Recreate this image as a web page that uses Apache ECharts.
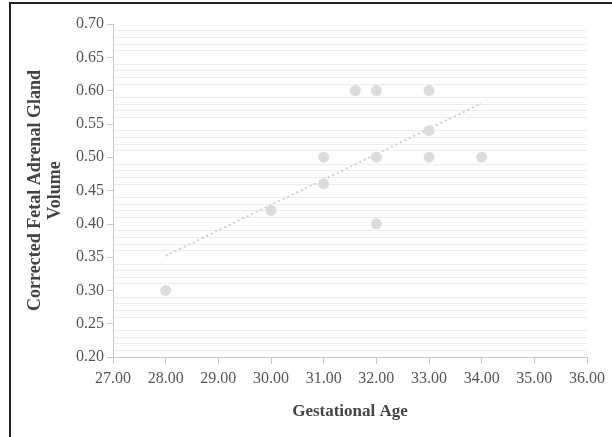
<!DOCTYPE html>
<html><head><meta charset="utf-8">
<script src="https://cdn.jsdelivr.net/npm/echarts@6/dist/echarts.min.js"></script>
<style>html,body{margin:0;padding:0;background:#fff}#c{width:612px;height:437px}</style>
</head><body><div id="c"></div>
<script>
const gestAge = [28, 30, 31, 31, 31.6, 32, 32, 32, 33, 33, 33, 34];
const adrenalVol = [0.30, 0.42, 0.50, 0.46, 0.60, 0.60, 0.50, 0.40, 0.60, 0.54, 0.50, 0.50];
const trendX = [28, 34];
const trendY = [0.352, 0.581];
const xTitle = 'Gestational Age';
const yTitle = 'Corrected Fetal Adrenal Gland\nVolume';

const points = gestAge.map((x, i) => [x, adrenalVol[i]]);
const trend = trendX.map((x, i) => [x, trendY[i]]);
const serif = '"Liberation Serif", "Times New Roman", serif';

const chart = echarts.init(document.getElementById('c'));
chart.setOption({
  animation: false,
  grid: {left: 113, right: 25, top: 24, bottom: 80},
  xAxis: {
    type: 'value', min: 27, max: 36, interval: 1,
    name: xTitle, nameLocation: 'middle', nameGap: 46,
    nameTextStyle: {fontFamily: serif, fontWeight: 'bold', fontSize: 17, color: '#444'},
    axisLine: {lineStyle: {color: '#c8c8c8'}},
    axisTick: {length: 7, lineStyle: {color: '#c8c8c8'}},
    axisLabel: {fontFamily: serif, fontSize: 16, color: '#555', margin: 14,
      formatter: v => v.toFixed(2)},
    splitLine: {show: false}
  },
  yAxis: {
    type: 'value', min: 0.2, max: 0.7, interval: 0.05,
    name: yTitle, nameLocation: 'middle', nameGap: 42,
    nameTextStyle: {fontFamily: serif, fontWeight: 'bold', fontSize: 18, color: '#444', lineHeight: 20},
    axisLine: {show: true, lineStyle: {color: '#c8c8c8'}},
    axisTick: {show: true, length: 6, lineStyle: {color: '#c8c8c8'}},
    axisLabel: {fontFamily: serif, fontSize: 16, color: '#555', margin: 9,
      formatter: v => v.toFixed(2)},
    splitLine: {show: false},
    minorTick: {show: false, splitNumber: 5},
    minorSplitLine: {show: true, lineStyle: {color: '#ececec', width: 1}}
  },
  series: [
    {type: 'scatter', data: points, symbolSize: 11,
     itemStyle: {color: '#dcdcdc', opacity: 1}, z: 3},
    {type: 'line', data: trend, symbol: 'none',
     lineStyle: {color: '#cfcfcf', width: 2, type: [2, 3]}, z: 2}
  ],
  graphic: [
    {type: 'line', shape: {x1: 9, y1: 3, x2: 612, y2: 3}, style: {stroke: '#222', lineWidth: 2}},
    {type: 'line', shape: {x1: 10, y1: 3, x2: 10, y2: 437}, style: {stroke: '#222', lineWidth: 2}}
  ]
});
</script></body></html>
